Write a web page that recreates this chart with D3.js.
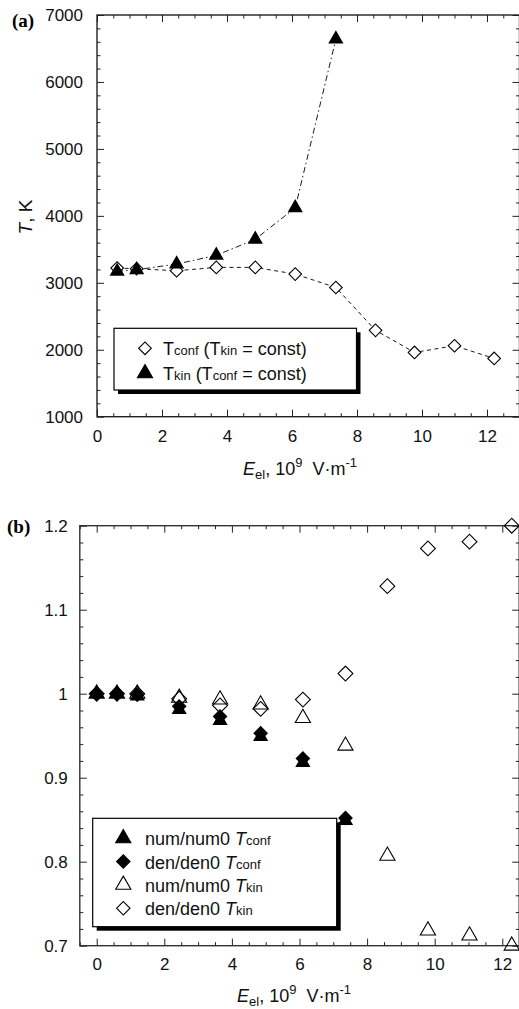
<!DOCTYPE html>
<html>
<head>
<meta charset="utf-8">
<script src="https://cdn.jsdelivr.net/npm/d3@7"></script>
<style>
    body { margin: 0; background: #fff; }
    svg { display: block; font-family: "Liberation Sans", Arial, sans-serif; }
    .domain { display: none; }
</style>
</head>
<body>
<svg id="chart" width="519" height="1009"></svg>
<script>
// ---- panel (a) data ----
const xConf = [0.62, 1.22, 2.45, 3.67, 4.87, 6.1, 7.35, 8.57, 9.77, 11.0, 12.22];
const tConf = [3220, 3210, 3180, 3230, 3230, 3130, 2930, 2290, 1960, 2060, 1870];
const xKin = [0.62, 1.22, 2.45, 3.67, 4.87, 6.1, 7.35];
const tKin = [3170, 3195, 3280, 3410, 3650, 4120, 6640];
const xTicksA = [0, 2, 4, 6, 8, 10, 12];
const yTicksA = [1000, 2000, 3000, 4000, 5000, 6000, 7000];

// ---- panel (b) data ----
const xB = [0, 0.6, 1.2, 2.44, 3.65, 4.85, 6.1, 7.36, 8.6, 9.8, 11.03, 12.28];
const numConf = [1.0, 1.0, 0.997, 0.981, 0.968, 0.949, 0.918, 0.849];
const denConf = [1.0, 1.0, 0.999, 0.985, 0.973, 0.953, 0.923, 0.852];
const numKin = [1.0, 1.0, 1.0, 0.995, 0.993, 0.987, 0.971, 0.938, 0.807, 0.718, 0.712, 0.700];
const denKin = [1.0, 1.0, 1.0, 0.994, 0.986, 0.982, 0.993, 1.024, 1.128, 1.173, 1.181, 1.2];
const xTicksB = [0, 2, 4, 6, 8, 10, 12];
const yTicksB = [0.7, 0.8, 0.9, 1.0, 1.1, 1.2];

const svg = d3.select("#chart");

// marker paths
const tri = s => d3.symbol(d3.symbolTriangle, s)();
const dia = s => d3.symbol(d3.symbolSquare, s)();

function frame(x, y, opt) {
    let g = svg.append("g");
    let [x0, x1] = x.range();
    let [y0, y1] = y.range();

    // major + minor ticks on all four sides, pointing inward
    const sides = [
        { ax: () => d3.axisBottom(x), t: `translate(0,${y0})`, maj: opt.xMajor, min: opt.xMinor, fmt: opt.xFmt, pad: opt.xPad },
        { ax: () => d3.axisTop(x), t: `translate(0,${y1})`, maj: opt.xMajor, min: opt.xMinor },
        { ax: () => d3.axisLeft(y), t: `translate(${x0},0)`, maj: opt.yMajor, min: opt.yMinor, fmt: opt.yFmt, pad: opt.yPad },
        { ax: () => d3.axisRight(y), t: `translate(${x1},0)`, maj: opt.yMajor, min: opt.yMinor }
    ];
    sides.forEach(s => {
        g.append("g").attr("transform", s.t)
            .call(s.ax().tickValues(s.min).tickSize(-3.5).tickFormat(""))
            .selectAll("line").attr("stroke", "#222");
        let a = g.append("g").attr("transform", s.t)
            .call(s.ax().tickValues(s.maj).tickSize(-7).tickPadding(s.pad || 0)
                .tickFormat(s.fmt || ""));
        a.attr("font-family", "'Liberation Sans', Arial, sans-serif").attr("font-size", 17);
        a.selectAll("line").attr("stroke", "#222");
        a.selectAll("text").attr("fill", "#111");
    });

    g.append("rect")
        .attr("x", x0).attr("y", y1)
        .attr("width", x1 - x0).attr("height", y0 - y1)
        .attr("fill", "none").attr("stroke", opt.frameColor || "#222")
        .attr("stroke-width", 1.4);
    return g;
}

function xTitle(cx, y) {
    let t = svg.append("text").attr("x", cx).attr("y", y)
        .attr("text-anchor", "middle").attr("font-size", 18).attr("fill", "#111");
    t.append("tspan").attr("font-style", "italic").text("E");
    t.append("tspan").attr("font-size", 13).attr("dy", 4).text("el");
    t.append("tspan").attr("dy", -4).text(", 10");
    t.append("tspan").attr("font-size", 13).attr("dy", -8).text("9");
    t.append("tspan").attr("dy", 8).text("\u00a0 V\u00b7m");
    t.append("tspan").attr("font-size", 13).attr("dy", -8).text("-1");
}

function legend(x, y, w, h, rows, dy) {
    let g = svg.append("g");
    // shadow
    g.append("rect").attr("x", x + 4).attr("y", y + 4).attr("width", w).attr("height", h).attr("fill", "#000");
    g.append("rect").attr("x", x).attr("y", y).attr("width", w).attr("height", h)
        .attr("fill", "#fff").attr("stroke", "#000").attr("stroke-width", 1.2);
    rows.forEach((r, i) => {
        let cy = y + r.offset + i * dy;
        g.append("path").attr("d", r.shape)
            .attr("transform", `translate(${x + r.mx},${cy})` + (r.rot ? " rotate(45)" : ""))
            .attr("fill", r.fill).attr("stroke", "#000").attr("stroke-width", 1.1);
        let t = g.append("text").attr("x", x + r.tx).attr("y", cy + 7)
            .attr("font-size", 18).attr("fill", "#111");
        r.parts.forEach(p => {
            let s = t.append("tspan").text(p[0]);
            if (p[1] === "s") s.attr("font-size", 13);
            if (p[1] === "i") s.attr("font-style", "italic");
        });
    });
}

// ================= panel (a) =================
const xA = d3.scaleLinear().domain([0, 13]).range([97, 519.5]);
const yA = d3.scaleLinear().domain([1000, 7000]).range([416.7, 15]);

frame(xA, yA, {
    xMajor: xTicksA, xMinor: d3.range(0, 13.01, 0.5).filter(v => v % 2 !== 0),
    yMajor: yTicksA, yMinor: d3.range(1000, 7001, 200).filter(v => v % 1000 !== 0),
    xPad: 13, yPad: 14, xFmt: d3.format("d"), yFmt: d3.format("d")
});

const lineA = d3.line().x(d => xA(d[0])).y(d => yA(d[1]));
const confA = xConf.map((v, i) => [v, tConf[i]]);
const kinA = xKin.map((v, i) => [v, tKin[i]]);

svg.append("path").attr("d", lineA(confA)).attr("fill", "none")
    .attr("stroke", "#000").attr("stroke-width", 0.9).attr("stroke-dasharray", "4,3.5");
svg.append("path").attr("d", lineA(kinA)).attr("fill", "none")
    .attr("stroke", "#000").attr("stroke-width", 0.9).attr("stroke-dasharray", "6,3,1.5,3");

svg.append("g").selectAll("path").data(confA).join("path")
    .attr("d", dia(80))
    .attr("transform", d => `translate(${xA(d[0])},${yA(d[1])}) rotate(45)`)
    .attr("fill", "#fff").attr("stroke", "#000").attr("stroke-width", 1.1);
svg.append("g").selectAll("path").data(kinA).join("path")
    .attr("d", tri(100))
    .attr("transform", d => `translate(${xA(d[0])},${yA(d[1])})`)
    .attr("fill", "#000");

legend(114, 328.3, 242.5, 61.7, [
    { shape: dia(80), rot: true, fill: "#fff", mx: 31, tx: 49, offset: 20,
      parts: [["T"], ["conf", "s"], [" (T"], ["kin", "s"], [" = const)"]] },
    { shape: tri(100), fill: "#000", mx: 31, tx: 49, offset: 20,
      parts: [["T"], ["kin", "s"], [" (T"], ["conf", "s"], [" = const)"]] }
], 25);

svg.append("text").attr("x", 12).attr("y", 27)
    .attr("font-family", "'Liberation Serif', 'Times New Roman', serif")
    .attr("font-weight", "bold").attr("font-size", 19).text("(a)");

let yt = svg.append("text").attr("transform", "translate(32,217) rotate(-90)")
    .attr("text-anchor", "middle").attr("font-size", 19).attr("fill", "#111");
yt.append("tspan").attr("font-style", "italic").text("T");
yt.append("tspan").text(", K");

xTitle(300, 475);

// ================= panel (b) =================
const xBs = d3.scaleLinear().domain([-0.5, 12.5]).range([79.8, 519.2]);
const yBs = d3.scaleLinear().domain([0.7, 1.2]).range([945.7, 525.7]);

frame(xBs, yBs, {
    xMajor: xTicksB, xMinor: d3.range(-0.5, 12.51, 0.5).filter(v => Math.abs(v % 2) > 1e-6),
    yMajor: yTicksB, yMinor: d3.range(0.7, 1.2001, 0.02).filter(v => Math.abs(Math.round(v * 10) - v * 10) > 1e-6),
    xPad: 12, yPad: 12, xFmt: d3.format("d"),
    yFmt: d => d === 1 ? "1" : d3.format(".1f")(d), frameColor: "#333"
});

const ptsB = (arr) => arr.map((v, i) => [xB[i], v]);

// open symbols first, filled on top
svg.append("g").selectAll("path").data(ptsB(denKin)).join("path")
    .attr("d", dia(110))
    .attr("transform", d => `translate(${xBs(d[0])},${yBs(d[1])}) rotate(45)`)
    .attr("fill", "none").attr("stroke", "#000").attr("stroke-width", 1.1);
svg.append("g").selectAll("path").data(ptsB(numKin)).join("path")
    .attr("d", tri(100))
    .attr("transform", d => `translate(${xBs(d[0])},${yBs(d[1])})`)
    .attr("fill", "none").attr("stroke", "#000").attr("stroke-width", 1.1);
svg.append("g").selectAll("path").data(ptsB(denConf)).join("path")
    .attr("d", dia(110))
    .attr("transform", d => `translate(${xBs(d[0])},${yBs(d[1])}) rotate(45)`)
    .attr("fill", "#000");
svg.append("g").selectAll("path").data(ptsB(numConf)).join("path")
    .attr("d", tri(100))
    .attr("transform", d => `translate(${xBs(d[0])},${yBs(d[1])})`)
    .attr("fill", "#000");

legend(92.7, 818.3, 244, 108.4, [
    { shape: tri(100), fill: "#000", mx: 30.6, tx: 52.3, offset: 20, parts: [["num/num0 "], ["T", "i"], ["conf", "s"]] },
    { shape: dia(90), rot: true, fill: "#000", mx: 30.6, tx: 52.3, offset: 20, parts: [["den/den0 "], ["T", "i"], ["conf", "s"]] },
    { shape: tri(100), fill: "#fff", mx: 30.6, tx: 52.3, offset: 20, parts: [["num/num0 "], ["T", "i"], ["kin", "s"]] },
    { shape: dia(90), rot: true, fill: "#fff", mx: 30.6, tx: 52.3, offset: 20, parts: [["den/den0 "], ["T", "i"], ["kin", "s"]] }
], 23.3);

svg.append("text").attr("x", 7).attr("y", 533)
    .attr("font-family", "'Liberation Serif', 'Times New Roman', serif")
    .attr("font-weight", "bold").attr("font-size", 19).text("(b)");

xTitle(294, 1002);
</script>
</body>
</html>
